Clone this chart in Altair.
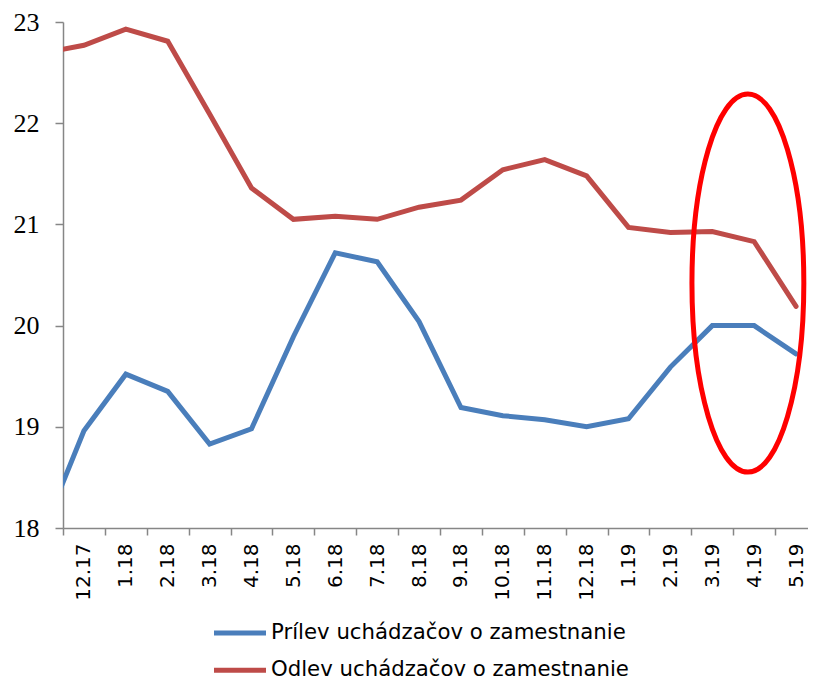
import json
import altair as alt
import pandas as pd

# ---- data ----
months = ["11.17", "12.17", "1.18", "2.18", "3.18", "4.18", "5.18", "6.18", "7.18",
          "8.18", "9.18", "10.18", "11.18", "12.18", "1.19", "2.19", "3.19", "4.19", "5.19"]
prilev = [17.94, 18.96, 19.52, 19.35, 18.83, 18.98, 19.89, 20.72, 20.63, 20.04,
          19.19, 19.11, 19.07, 19.00, 19.08, 19.59, 20.00, 20.00, 19.72]
odlev = [22.69, 22.77, 22.93, 22.81, 22.09, 21.36, 21.05, 21.08, 21.05, 21.17,
         21.24, 21.54, 21.64, 21.48, 20.97, 20.92, 20.93, 20.83, 20.19]
series_names = ["Prílev uchádzačov o zamestnanie", "Odlev uchádzačov o zamestnanie"]
series_colors = ["#4A7EBB", "#BE4B48"]
y_ticks = [18, 19, 20, 21, 22, 23]

# highlight ellipse around the last months
ellipse_x = [15.85]
ellipse_y = [20.42]

rows = []
for i, m in enumerate(months):
    rows.append({"idx": i - 1, "month": m, "series": series_names[0], "value": prilev[i]})
    rows.append({"idx": i - 1, "month": m, "series": series_names[1], "value": odlev[i]})
df = pd.DataFrame(rows)
ell_df = pd.DataFrame({"idx": ellipse_x, "value": ellipse_y})

n_shown = len(months) - 1
# the right edge of the original plot lies just beyond the picture
x_max = n_shown - 0.715
x_values = sorted([i - 0.5 for i in range(n_shown)] + list(range(n_shown)))
label_expr = ("datum.value % 1 === 0 ? " + json.dumps(months) + "[datum.value + 1] : ''")

x_enc = alt.X(
    "idx:Q",
    title=None,
    scale=alt.Scale(domain=[-0.5, x_max], nice=False, zero=False),
    axis=alt.Axis(
        values=x_values,
        labelExpr=label_expr,
        labelAngle=270,
        labelFont="DejaVu Sans",
        labelFontSize=20,
        labelColor="#000000",
        labelPadding=8,
        labelOverlap=False,
        labelFlush=False,
        tickSize=7,
        tickOpacity={"condition": {"test": "datum.value % 1 === 0", "value": 0}, "value": 1},
    ),
)
y_enc = alt.Y(
    "value:Q",
    title=None,
    scale=alt.Scale(domain=[18, 23], nice=False, zero=False),
    axis=alt.Axis(
        values=y_ticks,
        labelFont="Liberation Serif",
        labelFontSize=26,
        labelColor="#000000",
        labelPadding=16,
        tickSize=8,
    ),
)

lines = alt.Chart(df).mark_line(
    strokeWidth=5, strokeCap="round", strokeJoin="miter", clip=True
).encode(
    x=x_enc,
    y=y_enc,
    color=alt.Color(
        "series:N",
        scale=alt.Scale(domain=series_names, range=series_colors),
        legend=alt.Legend(
            title=None,
            orient="none",
            legendX=164.5,
            legendY=598.4,
            direction="vertical",
            symbolType="M -2.6 0 L 2.6 0",
            symbolSize=400,
            symbolStrokeWidth=5,
            labelFont="DejaVu Sans",
            labelFontSize=21.25,
            labelColor="#000000",
            labelOffset=18.5,
            labelLimit=0,
            rowPadding=14.45,
            padding=0,
        ),
    ),
)

ellipse_path = ("M 0 -1 C 0.1636 -1 0.296 -0.552 0.296 0 C 0.296 0.552 0.1636 1 0 1 "
                "C -0.1636 1 -0.296 0.552 -0.296 0 C -0.296 -0.552 -0.1636 -1 0 -1 Z")
ellipse = alt.Chart(ell_df).mark_point(
    shape=ellipse_path, size=142884, filled=False, stroke="#FF0000",
    strokeWidth=5, opacity=1
).encode(x=x_enc, y=y_enc)

chart = alt.layer(lines, ellipse).properties(
    width=745,
    height=506,
    autosize=alt.AutoSizeParams(type="none"),
    padding={"left": 55, "top": 14, "right": 0, "bottom": 153},
).configure_view(stroke=None).configure_axis(
    grid=False,
    domainColor="#868686",
    tickColor="#868686",
    domainWidth=1.5,
    tickWidth=1.5,
)

chart.save("out.html", embed_options={"renderer": "svg", "actions": False})
